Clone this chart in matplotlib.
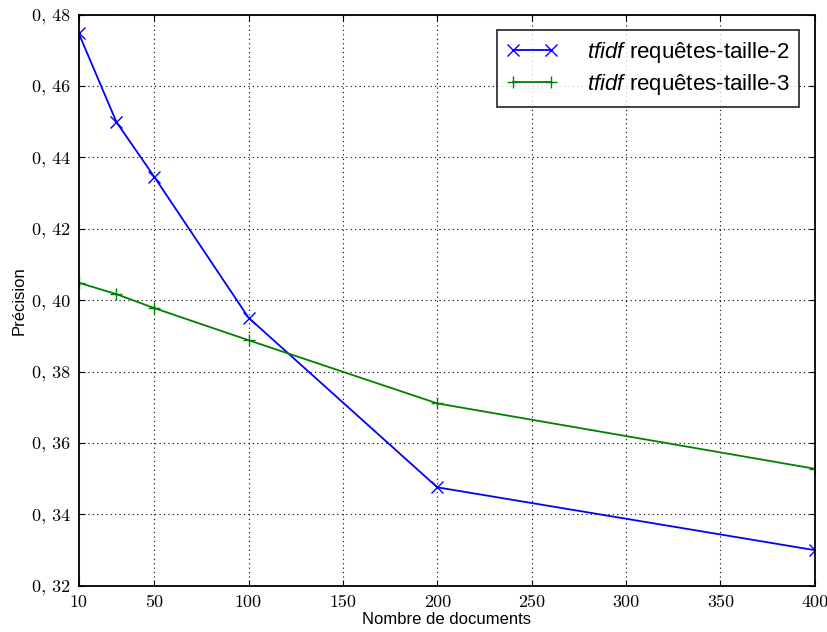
import matplotlib
matplotlib.use('Agg')
import matplotlib.pyplot as plt

# Nombre de documents vs précision
nb_docs = [10, 30, 50, 100, 200, 400]
prec_taille2 = [0.4748, 0.4499, 0.4346, 0.3951, 0.3476, 0.3300]
prec_taille3 = [0.4049, 0.4017, 0.3978, 0.3888, 0.3711, 0.3528]

xticks = [10, 50, 100, 150, 200, 250, 300, 350, 400]
yticks = [0.32, 0.34, 0.36, 0.38, 0.40, 0.42, 0.44, 0.46, 0.48]
ytick_labels = ['0, 32', '0, 34', '0, 36', '0, 38', '0, 40', '0, 42', '0, 44', '0, 46', '0, 48']

plt.rcParams['font.family'] = 'Liberation Sans'
plt.rcParams['mathtext.fontset'] = 'custom'
plt.rcParams['mathtext.it'] = 'Liberation Sans:italic'
plt.rcParams['mathtext.rm'] = 'Liberation Sans'

fig = plt.figure(figsize=(8.28, 6.32), dpi=100)
ax = fig.add_axes([0.095, 0.073, 0.889, 0.904])

ax.plot(nb_docs, prec_taille2, color='b', marker='x', markersize=8, lw=1.3,
        mew=1, label=r'$\mathit{tfidf}$ requêtes-taille-2')
ax.plot(nb_docs, prec_taille3, color='g', marker='+', markersize=8, lw=1.3,
        mew=1, label=r'$\mathit{tfidf}$ requêtes-taille-3')

ax.set_xlim(10, 400)
ax.set_ylim(0.32, 0.48)
ax.set_xticks(xticks)
ax.set_xticklabels([str(t) for t in xticks], fontfamily='cmr10', fontsize=13)
ax.set_yticks(yticks)
ax.set_yticklabels(ytick_labels, fontfamily='cmr10', fontsize=13)
ax.tick_params(direction='in', top=True, right=True, length=4, pad=6)

ax.grid(True, color='black', linestyle=(0, (1, 3)), linewidth=0.8)
for s in ax.spines.values():
    s.set_linewidth(1.3)

ax.set_xlabel('Nombre de documents', fontsize=12, labelpad=2)
ax.set_ylabel('Précision', fontsize=12, labelpad=4)

leg = ax.legend(loc='upper right', numpoints=2, fancybox=False, fontsize=16,
                borderaxespad=0.7, handlelength=2.3, handletextpad=1.3,
                borderpad=0.45, labelspacing=0.3)
leg.get_frame().set_edgecolor('black')
leg.get_frame().set_linewidth(1.3)

fig.savefig('out.png', dpi=100)
